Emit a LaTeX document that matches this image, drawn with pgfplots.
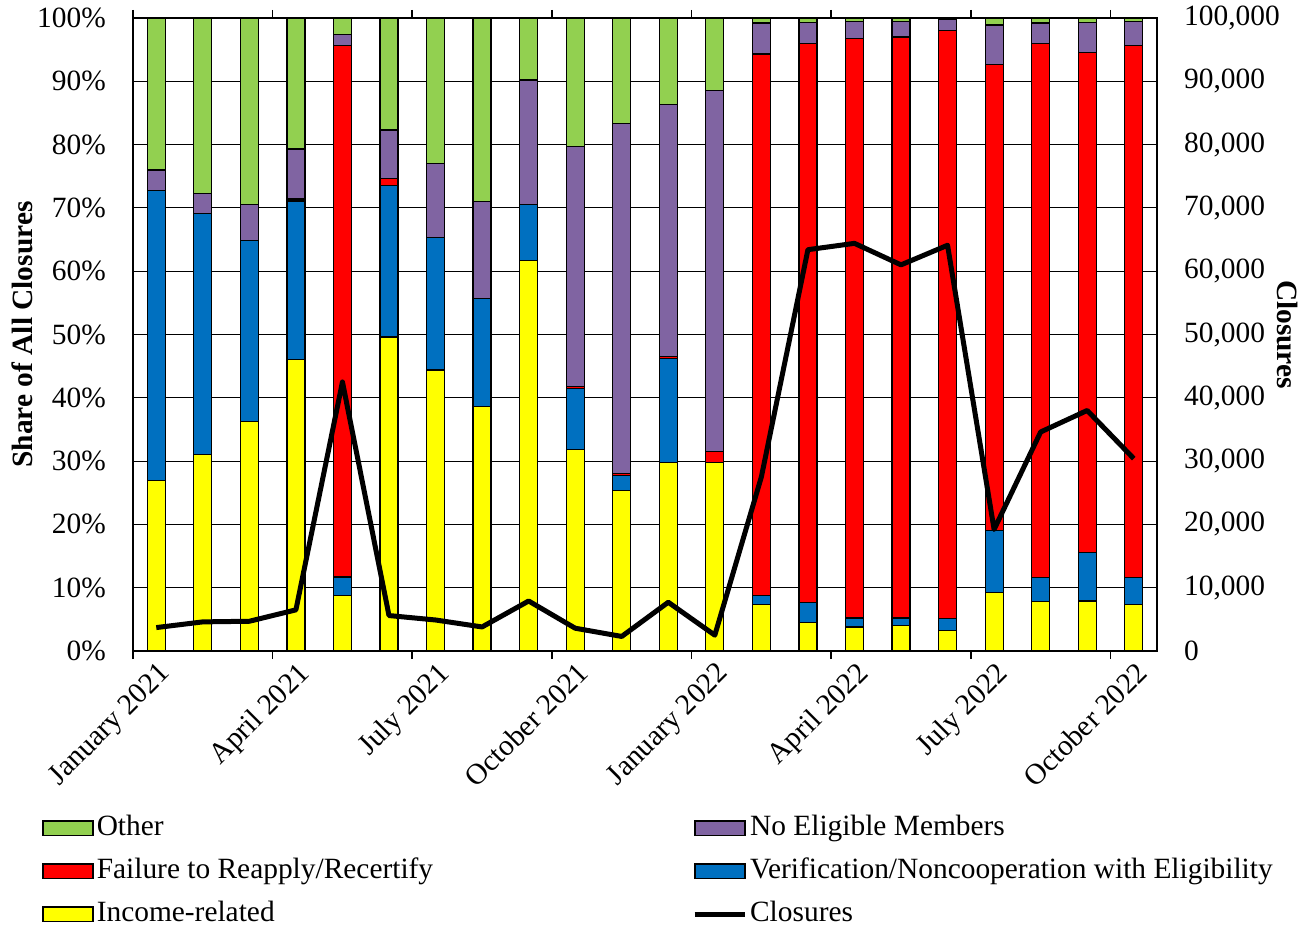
\documentclass[border=0pt]{standalone}
\usepackage{pgfplots}
\pgfplotsset{compat=1.18}
\usepackage{pgfplotstable}
\usepackage{fontspec}
\setmainfont{Liberation Serif}

\definecolor{cOther}{HTML}{92D050}
\definecolor{cNoel}{HTML}{8064A2}
\definecolor{cFail}{HTML}{FF0000}
\definecolor{cVer}{HTML}{0070C0}
\definecolor{cInc}{HTML}{FFFF00}

\pgfplotstableread{
x inc ver fail noel other clos
0 26.9 45.9 0.0 3.2 24.0 3700
1 31.1 38.0 0.0 3.2 27.7 4600
2 36.3 28.5 0.0 5.8 29.4 4700
3 46.1 25.0 0.3 7.9 20.7 6500
4 8.8 2.9 84.0 1.7 2.6 42500
5 49.6 24.0 1.0 7.7 17.7 5600
6 44.4 20.9 0.0 11.7 23.0 4900
7 38.6 17.1 0.0 15.3 29.0 3800
8 61.7 8.9 0.0 19.6 9.8 7900
9 31.8 9.7 0.3 37.9 20.3 3600
10 25.3 2.4 0.3 55.3 16.7 2300
11 29.8 16.4 0.3 39.8 13.7 7700
12 29.8 0.0 1.7 57.1 11.4 2500
13 7.3 1.5 85.5 4.9 0.8 27500
14 4.5 3.2 88.3 3.3 0.7 63400
15 3.8 1.4 91.6 2.7 0.5 64400
16 4.0 1.2 91.8 2.5 0.5 61000
17 3.3 1.8 92.9 1.7 0.3 64100
18 9.2 9.9 73.6 6.2 1.1 19200
19 7.8 3.8 84.4 3.2 0.8 34600
20 7.9 7.6 79.0 4.8 0.7 38000
21 7.4 4.2 84.1 3.8 0.5 30400
}\data

\begin{document}
\fontsize{14.7}{17.6}\selectfont
\begin{tikzpicture}
\path[use as bounding box] (-66.5pt,-137.5pt) rectangle (588.5pt,325.5pt);
\begin{axis}[
  name=main, at={(0pt,0pt)}, anchor=south west,
  scale only axis, width=512pt, height=316.5pt,
  xmin=-0.5, xmax=21.5, ymin=0, ymax=100,
  ybar stacked, bar width=9pt,
  axis line style={black, line width=0.8pt},
  ytick={0,10,...,100},
  yticklabels={0\%,10\%,20\%,30\%,40\%,50\%,60\%,70\%,80\%,90\%,100\%},
  yticklabel style={xshift=-8.5pt},
  ytick style={draw=none},
  ymajorgrids, grid style={black, line width=0.6pt},
  xtick={0,3,...,21},
  xticklabels={January 2021,April 2021,July 2021,October 2021,January 2022,April 2022,July 2022,October 2022},
  x tick label style={rotate=45, anchor=north east, inner sep=1pt, yshift=-2.5pt, xshift=-2pt},
  major tick length=0pt,
  extra x ticks={-0.5,2.5,5.5,8.5,11.5,14.5,17.5,20.5},
  extra x tick labels={},
  extra x tick style={major tick length=4pt, tick align=outside, grid=none, tick style={black, line width=0.8pt}},
  ylabel={\textbf{Share of All Closures}},
  ylabel style={at={(axis description cs:-0.108,0.5)}, anchor=center},
  legend columns=2,
  legend cell align=left,
  legend style={draw=none, fill=none, inner sep=0pt, outer sep=0pt,
    at={(axis description cs:-0.0889,-0.2547)}, anchor=north west,
    row sep=5.5pt,
    nodes={inner xsep=1.5pt, inner ysep=1pt, text height=10.5pt, text depth=3.5pt},
    /tikz/column 2/.style={column sep=128pt}},
]
\addplot[fill=cInc, draw=black, line width=0.6pt, forget plot] table[x=x,y=inc]{\data};
\addplot[fill=cVer, draw=black, line width=0.6pt, forget plot] table[x=x,y=ver]{\data};
\addplot[fill=cFail, draw=black, line width=0.6pt, forget plot] table[x=x,y=fail]{\data};
\addplot[fill=cNoel, draw=black, line width=0.6pt, forget plot] table[x=x,y=noel]{\data};
\addplot[fill=cOther, draw=black, line width=0.6pt, forget plot] table[x=x,y=other]{\data};
\pgfplotsset{rectleg/.style={legend image code/.code={\draw[##1, draw=black, line width=0.9pt] (0pt,-3.6pt) rectangle (25pt,3.6pt);}}}
\addlegendimage{rectleg, fill=cOther}
\addlegendentry{Other}
\addlegendimage{rectleg, fill=cNoel}
\addlegendentry{No Eligible Members}
\addlegendimage{rectleg, fill=cFail}
\addlegendentry{Failure to Reapply/Recertify}
\addlegendimage{rectleg, fill=cVer}
\addlegendentry{Verification/Noncooperation with Eligibility}
\addlegendimage{rectleg, fill=cInc}
\addlegendentry{Income-related}
\addlegendimage{legend image code/.code={\draw[black, line width=2.5pt] (0pt,0pt) -- (25pt,0pt);}}
\addlegendentry{Closures}
\end{axis}
\begin{axis}[
  at={(0pt,0pt)}, anchor=south west,
  scale only axis, width=512pt, height=316.5pt,
  xmin=-0.5, xmax=21.5, ymin=0, ymax=100000,
  axis y line*=right, axis x line=none,
  axis line style={black, line width=0.8pt},
  scaled y ticks=false,
  ytick={0,10000,...,100000},
  yticklabels={0,{10,000},{20,000},{30,000},{40,000},{50,000},{60,000},{70,000},{80,000},{90,000},{100,000}},
  yticklabel style={xshift=8.5pt},
  ytick style={draw=none},
  ylabel={\textbf{Closures}},
  ylabel style={at={(axis description cs:1.127,0.5)}, anchor=center, rotate=180},
]
\addplot[black, line width=2.5pt, line join=round, mark=none] table[x=x,y=clos]{\data};
\end{axis}
\end{tikzpicture}
\end{document}
